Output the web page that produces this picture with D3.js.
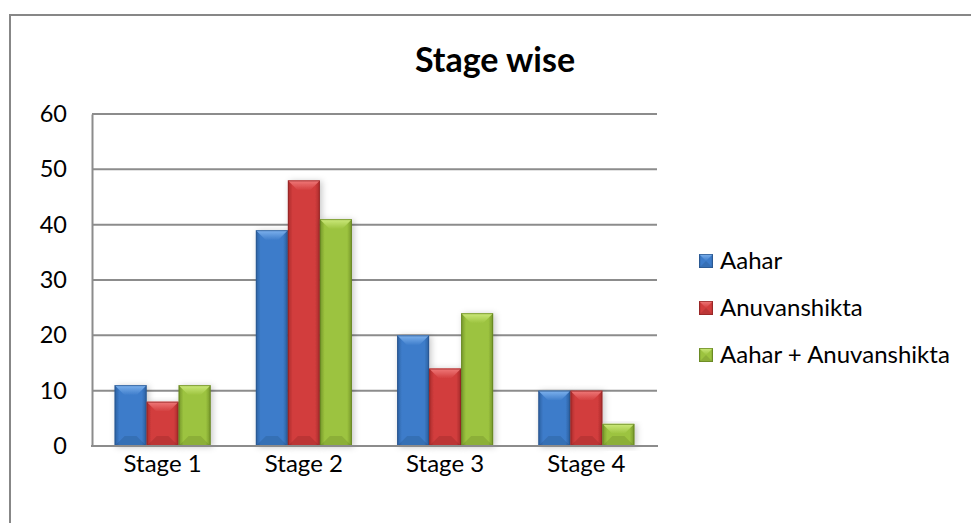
<!DOCTYPE html>
<html>
<head>
<meta charset="utf-8">
<script src="https://cdn.jsdelivr.net/npm/d3@7"></script>
<style>
  body { margin: 0; background: #fff; }
  text { font-family: Lato, "Open Sans", sans-serif; fill: #000; }
</style>
</head>
<body>
<svg id="chart" width="971" height="523"></svg>
<script>
var categories = ['Stage 1', 'Stage 2', 'Stage 3', 'Stage 4'];
var seriesNames = ['Aahar', 'Anuvanshikta', 'Aahar + Anuvanshikta'];
var aahar = [11, 39, 20, 10];
var anuvanshikta = [8, 48, 14, 10];
var aaharAnuvanshikta = [11, 41, 24, 4];
var yTicks = [0, 10, 20, 30, 40, 50, 60];

var seriesValues = [aahar, anuvanshikta, aaharAnuvanshikta];

// body, edge, light top, outline
var palette = [
  { body: '#3d7cca', edge: '#2b5f9f', light: '#7fb3ee', line: '#2a5489' },
  { body: '#d23d3d', edge: '#a92b2b', light: '#f07a7a', line: '#8f2323' },
  { body: '#9cc33f', edge: '#74952a', light: '#cdea7c', line: '#62801f' }
];

var svg = d3.select('#chart');
var defs = svg.append('defs');

palette.forEach(function (c, i) {
  var g = defs.append('linearGradient')
      .attr('id', 'side' + i)
      .attr('x1', 0).attr('x2', 1).attr('y1', 0).attr('y2', 0);
  g.append('stop').attr('offset', 0).attr('stop-color', c.edge);
  g.append('stop').attr('offset', 0.15).attr('stop-color', c.body);
  g.append('stop').attr('offset', 0.85).attr('stop-color', c.body);
  g.append('stop').attr('offset', 1).attr('stop-color', c.edge);

  var t = defs.append('linearGradient')
      .attr('id', 'top' + i)
      .attr('x1', 0).attr('x2', 0).attr('y1', 0).attr('y2', 1);
  t.append('stop').attr('offset', 0).attr('stop-color', c.light);
  t.append('stop').attr('offset', 1).attr('stop-color', c.body);
});

var shadow = defs.append('filter').attr('id', 'shadow')
    .attr('x', '-30%').attr('y', '-10%').attr('width', '160%').attr('height', '130%');
shadow.append('feDropShadow')
    .attr('dx', 2).attr('dy', 1)
    .attr('stdDeviation', 3)
    .attr('flood-color', '#000')
    .attr('flood-opacity', 0.22);

// outer chart border
svg.append('rect')
    .attr('x', 10).attr('y', 15)
    .attr('width', 980).attr('height', 540)
    .attr('fill', 'none')
    .attr('stroke', '#878787')
    .attr('stroke-width', 2);

svg.append('text')
    .attr('x', 495).attr('y', 72)
    .attr('text-anchor', 'middle')
    .style('font-size', '34px')
    .style('font-weight', 'bold')
    .text('Stage wise');

var x0 = d3.scaleBand()
    .domain(categories)
    .range([92, 657])
    .paddingInner(0.32)
    .paddingOuter(0.16);

var x1 = d3.scaleBand()
    .domain(seriesNames)
    .range([0, x0.bandwidth()]);

var y = d3.scaleLinear()
    .domain([0, 60])
    .range([446, 114]);

// gridlines
svg.append('g')
  .selectAll('line')
  .data(yTicks.filter(function (d) { return d > 0; }))
  .join('line')
    .attr('x1', 92).attr('x2', 657)
    .attr('y1', function (d) { return y(d); })
    .attr('y2', function (d) { return y(d); })
    .attr('stroke', '#8c8c8c')
    .attr('stroke-width', 2);

// y axis
var yAxis = svg.append('g')
    .attr('transform', 'translate(92,0)')
    .call(d3.axisLeft(y).tickValues(yTicks).tickSize(0).tickPadding(25));
yAxis.select('.domain').attr('stroke', '#8c8c8c').attr('stroke-width', 2);
yAxis.selectAll('text')
    .style('font-size', '23.5px')
    .style('font-family', 'Lato, sans-serif')
    .attr('fill', '#000');

// x axis
var xAxis = svg.append('g')
    .attr('transform', 'translate(0,446)')
    .call(d3.axisBottom(x0).tickSize(0).tickPadding(9));
xAxis.select('.domain').attr('stroke', '#8c8c8c').attr('stroke-width', 2)
    .attr('d', 'M91,0H658');
xAxis.selectAll('text')
    .style('font-size', '24px')
    .style('font-family', 'Lato, sans-serif')
    .attr('fill', '#000');

function bevelBar(sel, x, yTop, w, h, i) {
  var b = Math.min(10, h / 2, w / 2);
  sel.append('rect')
      .attr('x', x).attr('y', yTop).attr('width', w).attr('height', h)
      .attr('fill', 'url(#side' + i + ')');
  sel.append('polygon')
      .attr('points', [[x, yTop], [x + w, yTop], [x + w - b, yTop + b], [x + b, yTop + b]].join(' '))
      .attr('fill', 'url(#top' + i + ')');
  sel.append('polygon')
      .attr('points', [[x, yTop + h], [x + w, yTop + h], [x + w - b, yTop + h - b], [x + b, yTop + h - b]].join(' '))
      .attr('fill', '#000').attr('fill-opacity', 0.1);
  sel.append('rect')
      .attr('x', x + 0.5).attr('y', yTop + 0.5).attr('width', w - 1).attr('height', h - 1)
      .attr('fill', 'none')
      .attr('stroke', palette[i].line)
      .attr('stroke-opacity', 0.7)
      .attr('stroke-width', 1);
}

// bars
var groups = svg.append('g')
  .selectAll('g')
  .data(categories)
  .join('g')
    .attr('transform', function (d) { return 'translate(' + x0(d) + ',0)'; });

groups.each(function (cat, ci) {
  var g = d3.select(this);
  seriesNames.forEach(function (s, si) {
    var v = seriesValues[si][ci];
    var bar = g.append('g').attr('filter', 'url(#shadow)');
    bevelBar(bar, x1(s), y(v), x1.bandwidth(), y(0) - y(v), si);
  });
});

// redraw axis line over bar shadows
svg.append('line')
    .attr('x1', 91).attr('x2', 658)
    .attr('y1', 446).attr('y2', 446)
    .attr('stroke', '#8c8c8c').attr('stroke-width', 2);

// legend
var legend = svg.append('g')
  .selectAll('g')
  .data(seriesNames)
  .join('g')
    .attr('transform', function (d, i) { return 'translate(699,' + (261 + i * 47) + ')'; });

legend.each(function (d, i) {
  bevelBar(d3.select(this), 0, -7, 14, 14, i);
});

legend.append('text')
    .attr('x', 21)
    .attr('dy', '0.35em')
    .style('font-size', '24px')
    .text(function (d) { return d; });
</script>
</body>
</html>
